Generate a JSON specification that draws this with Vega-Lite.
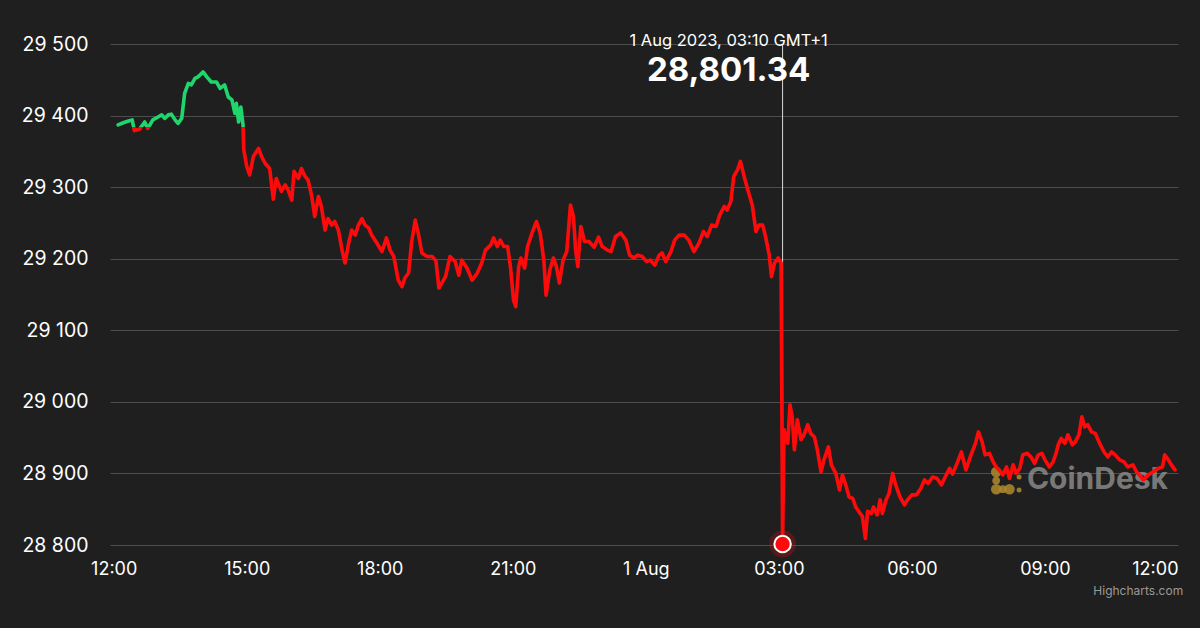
{
  "$schema": "https://vega.github.io/schema/vega-lite/v6.json",
  "width": 1068,
  "height": 501,
  "autosize": {"type": "none"},
  "padding": {"left": 110, "top": 44, "right": 22, "bottom": 83},
  "background": "#1f1f1f",
  "config": {"view": {"stroke": null}, "font": "Inter"},
  "datasets": {
    "price": [
      {"t":"2023-07-31T12:06:00Z","v":29387},{"t":"2023-07-31T12:13:00Z","v":29390},{"t":"2023-07-31T12:19:00Z","v":29392},{"t":"2023-07-31T12:25:00Z","v":29394},{"t":"2023-07-31T12:28:00Z","v":29379},{"t":"2023-07-31T12:35:00Z","v":29381},{"t":"2023-07-31T12:42:00Z","v":29391},{"t":"2023-07-31T12:46:00Z","v":29382},{"t":"2023-07-31T12:53:00Z","v":29394},{"t":"2023-07-31T13:00:00Z","v":29398},{"t":"2023-07-31T13:05:00Z","v":29401},{"t":"2023-07-31T13:09:00Z","v":29396},{"t":"2023-07-31T13:14:00Z","v":29401},{"t":"2023-07-31T13:18:00Z","v":29402},{"t":"2023-07-31T13:23:00Z","v":29394},{"t":"2023-07-31T13:27:00Z","v":29389},{"t":"2023-07-31T13:32:00Z","v":29396},{"t":"2023-07-31T13:36:00Z","v":29431},{"t":"2023-07-31T13:41:00Z","v":29445},{"t":"2023-07-31T13:45:00Z","v":29443},{"t":"2023-07-31T13:50:00Z","v":29452},{"t":"2023-07-31T13:54:00Z","v":29454},{"t":"2023-07-31T14:01:00Z","v":29461},{"t":"2023-07-31T14:06:00Z","v":29454},{"t":"2023-07-31T14:12:00Z","v":29447},{"t":"2023-07-31T14:19:00Z","v":29447},{"t":"2023-07-31T14:24:00Z","v":29438},{"t":"2023-07-31T14:30:00Z","v":29443},{"t":"2023-07-31T14:35:00Z","v":29426},{"t":"2023-07-31T14:40:00Z","v":29422},{"t":"2023-07-31T14:44:00Z","v":29403},{"t":"2023-07-31T14:46:00Z","v":29417},{"t":"2023-07-31T14:49:00Z","v":29391},{"t":"2023-07-31T14:52:00Z","v":29412},{"t":"2023-07-31T14:55:00Z","v":29387},{"t":"2023-07-31T14:56:00Z","v":29352},{"t":"2023-07-31T15:00:00Z","v":29329},{"t":"2023-07-31T15:04:00Z","v":29317},{"t":"2023-07-31T15:09:00Z","v":29343},{"t":"2023-07-31T15:16:00Z","v":29354},{"t":"2023-07-31T15:20:00Z","v":29343},{"t":"2023-07-31T15:25:00Z","v":29333},{"t":"2023-07-31T15:31:00Z","v":29326},{"t":"2023-07-31T15:36:00Z","v":29283},{"t":"2023-07-31T15:40:00Z","v":29312},{"t":"2023-07-31T15:47:00Z","v":29294},{"t":"2023-07-31T15:52:00Z","v":29303},{"t":"2023-07-31T15:56:00Z","v":29296},{"t":"2023-07-31T16:01:00Z","v":29282},{"t":"2023-07-31T16:04:00Z","v":29322},{"t":"2023-07-31T16:10:00Z","v":29312},{"t":"2023-07-31T16:14:00Z","v":29326},{"t":"2023-07-31T16:19:00Z","v":29315},{"t":"2023-07-31T16:23:00Z","v":29310},{"t":"2023-07-31T16:28:00Z","v":29287},{"t":"2023-07-31T16:32:00Z","v":29259},{"t":"2023-07-31T16:37:00Z","v":29287},{"t":"2023-07-31T16:41:00Z","v":29273},{"t":"2023-07-31T16:46:00Z","v":29240},{"t":"2023-07-31T16:50:00Z","v":29256},{"t":"2023-07-31T16:55:00Z","v":29247},{"t":"2023-07-31T16:59:00Z","v":29252},{"t":"2023-07-31T17:04:00Z","v":29240},{"t":"2023-07-31T17:09:00Z","v":29212},{"t":"2023-07-31T17:13:00Z","v":29194},{"t":"2023-07-31T17:18:00Z","v":29222},{"t":"2023-07-31T17:22:00Z","v":29240},{"t":"2023-07-31T17:27:00Z","v":29233},{"t":"2023-07-31T17:31:00Z","v":29247},{"t":"2023-07-31T17:36:00Z","v":29256},{"t":"2023-07-31T17:40:00Z","v":29247},{"t":"2023-07-31T17:45:00Z","v":29243},{"t":"2023-07-31T17:49:00Z","v":29233},{"t":"2023-07-31T17:56:00Z","v":29222},{"t":"2023-07-31T18:03:00Z","v":29210},{"t":"2023-07-31T18:09:00Z","v":29229},{"t":"2023-07-31T18:14:00Z","v":29212},{"t":"2023-07-31T18:19:00Z","v":29203},{"t":"2023-07-31T18:25:00Z","v":29170},{"t":"2023-07-31T18:30:00Z","v":29161},{"t":"2023-07-31T18:34:00Z","v":29173},{"t":"2023-07-31T18:39:00Z","v":29180},{"t":"2023-07-31T18:43:00Z","v":29222},{"t":"2023-07-31T18:48:00Z","v":29254},{"t":"2023-07-31T18:52:00Z","v":29236},{"t":"2023-07-31T18:57:00Z","v":29208},{"t":"2023-07-31T19:04:00Z","v":29203},{"t":"2023-07-31T19:11:00Z","v":29203},{"t":"2023-07-31T19:16:00Z","v":29197},{"t":"2023-07-31T19:20:00Z","v":29159},{"t":"2023-07-31T19:29:00Z","v":29175},{"t":"2023-07-31T19:35:00Z","v":29203},{"t":"2023-07-31T19:42:00Z","v":29196},{"t":"2023-07-31T19:47:00Z","v":29177},{"t":"2023-07-31T19:51:00Z","v":29198},{"t":"2023-07-31T19:58:00Z","v":29187},{"t":"2023-07-31T20:05:00Z","v":29170},{"t":"2023-07-31T20:12:00Z","v":29180},{"t":"2023-07-31T20:18:00Z","v":29194},{"t":"2023-07-31T20:23:00Z","v":29212},{"t":"2023-07-31T20:30:00Z","v":29219},{"t":"2023-07-31T20:34:00Z","v":29229},{"t":"2023-07-31T20:39:00Z","v":29217},{"t":"2023-07-31T20:43:00Z","v":29226},{"t":"2023-07-31T20:48:00Z","v":29217},{"t":"2023-07-31T20:53:00Z","v":29217},{"t":"2023-07-31T20:57:00Z","v":29187},{"t":"2023-07-31T21:01:00Z","v":29142},{"t":"2023-07-31T21:04:00Z","v":29133},{"t":"2023-07-31T21:08:00Z","v":29189},{"t":"2023-07-31T21:11:00Z","v":29201},{"t":"2023-07-31T21:16:00Z","v":29187},{"t":"2023-07-31T21:20:00Z","v":29217},{"t":"2023-07-31T21:26:00Z","v":29236},{"t":"2023-07-31T21:32:00Z","v":29252},{"t":"2023-07-31T21:37:00Z","v":29236},{"t":"2023-07-31T21:42:00Z","v":29198},{"t":"2023-07-31T21:45:00Z","v":29149},{"t":"2023-07-31T21:50:00Z","v":29184},{"t":"2023-07-31T21:55:00Z","v":29201},{"t":"2023-07-31T21:59:00Z","v":29189},{"t":"2023-07-31T22:03:00Z","v":29166},{"t":"2023-07-31T22:08:00Z","v":29198},{"t":"2023-07-31T22:13:00Z","v":29210},{"t":"2023-07-31T22:18:00Z","v":29275},{"t":"2023-07-31T22:22:00Z","v":29259},{"t":"2023-07-31T22:25:00Z","v":29212},{"t":"2023-07-31T22:28:00Z","v":29189},{"t":"2023-07-31T22:32:00Z","v":29245},{"t":"2023-07-31T22:37:00Z","v":29224},{"t":"2023-07-31T22:43:00Z","v":29224},{"t":"2023-07-31T22:50:00Z","v":29216},{"t":"2023-07-31T22:56:00Z","v":29230},{"t":"2023-07-31T23:01:00Z","v":29217},{"t":"2023-07-31T23:08:00Z","v":29212},{"t":"2023-07-31T23:13:00Z","v":29210},{"t":"2023-07-31T23:19:00Z","v":29231},{"t":"2023-07-31T23:26:00Z","v":29236},{"t":"2023-07-31T23:33:00Z","v":29226},{"t":"2023-07-31T23:38:00Z","v":29205},{"t":"2023-07-31T23:44:00Z","v":29201},{"t":"2023-07-31T23:49:00Z","v":29205},{"t":"2023-07-31T23:55:00Z","v":29203},
      {"t":"2023-08-01T00:01:00Z","v":29196},{"t":"2023-08-01T00:06:00Z","v":29198},{"t":"2023-08-01T00:12:00Z","v":29191},{"t":"2023-08-01T00:18:00Z","v":29205},{"t":"2023-08-01T00:22:00Z","v":29208},{"t":"2023-08-01T00:27:00Z","v":29196},{"t":"2023-08-01T00:34:00Z","v":29210},{"t":"2023-08-01T00:39:00Z","v":29226},{"t":"2023-08-01T00:45:00Z","v":29233},{"t":"2023-08-01T00:52:00Z","v":29233},{"t":"2023-08-01T00:58:00Z","v":29226},{"t":"2023-08-01T01:05:00Z","v":29210},{"t":"2023-08-01T01:12:00Z","v":29222},{"t":"2023-08-01T01:18:00Z","v":29238},{"t":"2023-08-01T01:23:00Z","v":29231},{"t":"2023-08-01T01:29:00Z","v":29247},{"t":"2023-08-01T01:35:00Z","v":29245},{"t":"2023-08-01T01:40:00Z","v":29261},{"t":"2023-08-01T01:46:00Z","v":29273},{"t":"2023-08-01T01:50:00Z","v":29268},{"t":"2023-08-01T01:55:00Z","v":29280},{"t":"2023-08-01T01:59:00Z","v":29315},{"t":"2023-08-01T02:04:00Z","v":29324},{"t":"2023-08-01T02:08:00Z","v":29336},{"t":"2023-08-01T02:13:00Z","v":29315},{"t":"2023-08-01T02:18:00Z","v":29296},{"t":"2023-08-01T02:24:00Z","v":29275},{"t":"2023-08-01T02:29:00Z","v":29238},{"t":"2023-08-01T02:33:00Z","v":29247},{"t":"2023-08-01T02:38:00Z","v":29247},{"t":"2023-08-01T02:42:00Z","v":29231},{"t":"2023-08-01T02:47:00Z","v":29205},{"t":"2023-08-01T02:50:00Z","v":29175},{"t":"2023-08-01T02:54:00Z","v":29194},{"t":"2023-08-01T02:59:00Z","v":29201},{"t":"2023-08-01T03:03:00Z","v":29194},{"t":"2023-08-01T03:05:00Z","v":28801.34},{"t":"2023-08-01T03:07:00Z","v":28961},{"t":"2023-08-01T03:12:00Z","v":28942},{"t":"2023-08-01T03:15:00Z","v":28996},{"t":"2023-08-01T03:18:00Z","v":28979},{"t":"2023-08-01T03:21:00Z","v":28933},{"t":"2023-08-01T03:25:00Z","v":28975},{"t":"2023-08-01T03:30:00Z","v":28947},{"t":"2023-08-01T03:34:00Z","v":28954},{"t":"2023-08-01T03:39:00Z","v":28968},{"t":"2023-08-01T03:43:00Z","v":28956},{"t":"2023-08-01T03:48:00Z","v":28951},{"t":"2023-08-01T03:52:00Z","v":28933},{"t":"2023-08-01T03:57:00Z","v":28902},{"t":"2023-08-01T04:01:00Z","v":28919},{"t":"2023-08-01T04:07:00Z","v":28937},{"t":"2023-08-01T04:11:00Z","v":28912},{"t":"2023-08-01T04:17:00Z","v":28900},{"t":"2023-08-01T04:22:00Z","v":28877},{"t":"2023-08-01T04:26:00Z","v":28898},{"t":"2023-08-01T04:31:00Z","v":28882},{"t":"2023-08-01T04:35:00Z","v":28867},{"t":"2023-08-01T04:40:00Z","v":28865},{"t":"2023-08-01T04:44:00Z","v":28853},{"t":"2023-08-01T04:50:00Z","v":28844},{"t":"2023-08-01T04:53:00Z","v":28840},{"t":"2023-08-01T04:57:00Z","v":28809},{"t":"2023-08-01T05:00:00Z","v":28847},{"t":"2023-08-01T05:05:00Z","v":28844},{"t":"2023-08-01T05:08:00Z","v":28853},{"t":"2023-08-01T05:13:00Z","v":28842},{"t":"2023-08-01T05:17:00Z","v":28863},{"t":"2023-08-01T05:20:00Z","v":28844},{"t":"2023-08-01T05:25:00Z","v":28863},{"t":"2023-08-01T05:29:00Z","v":28872},{"t":"2023-08-01T05:34:00Z","v":28900},{"t":"2023-08-01T05:38:00Z","v":28884},{"t":"2023-08-01T05:44:00Z","v":28867},{"t":"2023-08-01T05:50:00Z","v":28856},{"t":"2023-08-01T05:54:00Z","v":28863},{"t":"2023-08-01T06:00:00Z","v":28870},{"t":"2023-08-01T06:06:00Z","v":28870},{"t":"2023-08-01T06:12:00Z","v":28879},{"t":"2023-08-01T06:17:00Z","v":28891},{"t":"2023-08-01T06:22:00Z","v":28886},{"t":"2023-08-01T06:28:00Z","v":28895},{"t":"2023-08-01T06:34:00Z","v":28893},{"t":"2023-08-01T06:40:00Z","v":28884},{"t":"2023-08-01T06:45:00Z","v":28895},{"t":"2023-08-01T06:51:00Z","v":28907},{"t":"2023-08-01T06:55:00Z","v":28899},{"t":"2023-08-01T07:01:00Z","v":28914},{"t":"2023-08-01T07:07:00Z","v":28930},{"t":"2023-08-01T07:13:00Z","v":28905},{"t":"2023-08-01T07:20:00Z","v":28926},{"t":"2023-08-01T07:26:00Z","v":28942},{"t":"2023-08-01T07:30:00Z","v":28958},{"t":"2023-08-01T07:35:00Z","v":28944},{"t":"2023-08-01T07:39:00Z","v":28926},{"t":"2023-08-01T07:45:00Z","v":28928},{"t":"2023-08-01T07:50:00Z","v":28916},{"t":"2023-08-01T07:54:00Z","v":28909},{"t":"2023-08-01T07:58:00Z","v":28905},{"t":"2023-08-01T08:03:00Z","v":28898},{"t":"2023-08-01T08:08:00Z","v":28909},{"t":"2023-08-01T08:12:00Z","v":28893},{"t":"2023-08-01T08:17:00Z","v":28912},{"t":"2023-08-01T08:21:00Z","v":28900},{"t":"2023-08-01T08:26:00Z","v":28907},{"t":"2023-08-01T08:30:00Z","v":28926},{"t":"2023-08-01T08:36:00Z","v":28928},{"t":"2023-08-01T08:41:00Z","v":28923},{"t":"2023-08-01T08:46:00Z","v":28914},{"t":"2023-08-01T08:51:00Z","v":28926},{"t":"2023-08-01T08:56:00Z","v":28928},{"t":"2023-08-01T09:00:00Z","v":28919},{"t":"2023-08-01T09:06:00Z","v":28909},{"t":"2023-08-01T09:11:00Z","v":28916},{"t":"2023-08-01T09:15:00Z","v":28928},{"t":"2023-08-01T09:18:00Z","v":28940},{"t":"2023-08-01T09:22:00Z","v":28949},{"t":"2023-08-01T09:27:00Z","v":28942},{"t":"2023-08-01T09:31:00Z","v":28954},{"t":"2023-08-01T09:37:00Z","v":28940},{"t":"2023-08-01T09:41:00Z","v":28944},{"t":"2023-08-01T09:46:00Z","v":28954},{"t":"2023-08-01T09:50:00Z","v":28979},{"t":"2023-08-01T09:54:00Z","v":28965},{"t":"2023-08-01T09:58:00Z","v":28968},{"t":"2023-08-01T10:03:00Z","v":28958},{"t":"2023-08-01T10:08:00Z","v":28956},{"t":"2023-08-01T10:14:00Z","v":28942},{"t":"2023-08-01T10:20:00Z","v":28930},{"t":"2023-08-01T10:25:00Z","v":28923},{"t":"2023-08-01T10:30:00Z","v":28930},{"t":"2023-08-01T10:35:00Z","v":28926},{"t":"2023-08-01T10:41:00Z","v":28919},{"t":"2023-08-01T10:47:00Z","v":28916},{"t":"2023-08-01T10:52:00Z","v":28909},{"t":"2023-08-01T10:59:00Z","v":28912},{"t":"2023-08-01T11:04:00Z","v":28902},{"t":"2023-08-01T11:08:00Z","v":28898},{"t":"2023-08-01T11:13:00Z","v":28891},{"t":"2023-08-01T11:20:00Z","v":28898},{"t":"2023-08-01T11:26:00Z","v":28902},{"t":"2023-08-01T11:33:00Z","v":28907},{"t":"2023-08-01T11:39:00Z","v":28909},{"t":"2023-08-01T11:42:00Z","v":28926},{"t":"2023-08-01T11:47:00Z","v":28919},{"t":"2023-08-01T11:51:00Z","v":28912},{"t":"2023-08-01T11:56:00Z","v":28905}
    ],
    "marker": [{"t":"2023-08-01T03:05:00Z","v":28801.34,"v2":29500}],
    "logo": [
      {"t":"2023-08-01T07:54:00Z","v":28902,"s":110},
      {"t":"2023-08-01T07:54:00Z","v":28878,"s":110},
      {"t":"2023-08-01T08:12:00Z","v":28878,"s":110},
      {"t":"2023-08-01T08:03:00Z","v":28878,"s":60},
      {"t":"2023-08-01T07:54:00Z","v":28890,"s":60},
      {"t":"2023-08-01T08:25:00Z","v":28895,"s":25},
      {"t":"2023-08-01T08:25:00Z","v":28877,"s":25}
    ],
    "watermark": [{"t":"2023-08-01T10:11:00Z","v":28891,"label":"CoinDesk"}],
    "tipdate": [{"t":"2023-08-01T01:52:00Z","v":29503.5,"label":"1 Aug 2023, 03:10 GMT+1"}],
    "tipvalue": [{"t":"2023-08-01T01:52:00Z","v":29461.6,"label":"28,801.34"}],
    "credit": [{"t":"2023-08-01T12:07:00Z","v":28735.7,"label":"Highcharts.com"}]
  },
  "encoding": {
    "x": {
      "field": "t", "type": "temporal",
      "scale": {"type": "utc", "domain": [{"year":2023,"month":"Jul","date":31,"hours":11,"minutes":55,"utc":true},{"year":2023,"month":"Aug","date":1,"hours":12,"utc":true}]},
      "axis": {
        "title": null, "domain": false, "ticks": false, "grid": false,
        "values": [
          {"year":2023,"month":"Jul","date":31,"hours":12,"utc":true},
          {"year":2023,"month":"Jul","date":31,"hours":15,"utc":true},
          {"year":2023,"month":"Jul","date":31,"hours":18,"utc":true},
          {"year":2023,"month":"Jul","date":31,"hours":21,"utc":true},
          {"year":2023,"month":"Aug","date":1,"hours":0,"utc":true},
          {"year":2023,"month":"Aug","date":1,"hours":3,"utc":true},
          {"year":2023,"month":"Aug","date":1,"hours":6,"utc":true},
          {"year":2023,"month":"Aug","date":1,"hours":9,"utc":true},
          {"year":2023,"month":"Aug","date":1,"hours":12,"utc":true}
        ],
        "labelExpr": "utchours(datum.value) == 0 ? utcFormat(datum.value, '%-d %b') : utcFormat(datum.value, '%H:%M')",
        "labelColor": "#ffffff", "labelFontSize": 18, "labelPadding": 15, "labelFlush": true, "labelFont": "Inter"
      }
    },
    "y": {
      "field": "v", "type": "quantitative",
      "scale": {"domain": [28800, 29500], "nice": false, "zero": false},
      "axis": {
        "title": null, "domain": false, "ticks": false, "grid": true,
        "gridColor": "#4d4d4d", "gridWidth": 1,
        "values": [28800, 28900, 29000, 29100, 29200, 29300, 29400, 29500],
        "labelExpr": "replace(format(datum.value, ','), ',', ' ')",
        "labelColor": "#ffffff", "labelFontSize": 19.5, "labelPadding": 22, "labelFont": "Inter"
      }
    }
  },
  "layer": [
    {
      "data": {"name": "watermark"},
      "mark": {"type": "text", "fontSize": 30, "fontWeight": "bold", "color": "#8f8f8f", "opacity": 0.8, "align": "center", "baseline": "middle", "font": "Inter"},
      "encoding": {"text": {"field": "label"}}
    },
    {
      "data": {"name": "logo"},
      "mark": {"type": "point", "filled": true, "color": "#b08a2e", "opacity": 0.85, "shape": "circle"},
      "encoding": {"size": {"field": "s", "type": "quantitative", "scale": null}}
    },
    {
      "data": {"name": "marker"},
      "mark": {"type": "rule", "color": "#d9d9d9", "strokeWidth": 1},
      "encoding": {"y2": {"field": "v2"}}
    },
    {
      "data": {"name": "price"},
      "mark": {
        "type": "line", "strokeWidth": 3.6, "strokeJoin": "round", "strokeCap": "round",
        "stroke": {
          "gradient": "linear", "x1": 0, "y1": 0, "x2": 0, "y2": 1,
          "stops": [
            {"offset": 0, "color": "#1fd66c"},
            {"offset": 0.1167, "color": "#1fd66c"},
            {"offset": 0.1167, "color": "#ff0a0a"},
            {"offset": 1, "color": "#ff0a0a"}
          ]
        }
      },
      "encoding": {}
    },
    {
      "data": {"name": "marker"},
      "mark": {"type": "point", "filled": true, "color": "#ff0a0a", "opacity": 0.25, "size": 720, "shape": "circle"},
      "encoding": {}
    },
    {
      "data": {"name": "marker"},
      "mark": {"type": "point", "filled": true, "fill": "#ff0a0a", "stroke": "#ffffff", "strokeWidth": 2, "opacity": 1, "size": 270, "shape": "circle"},
      "encoding": {}
    },
    {
      "data": {"name": "tipdate"},
      "mark": {"type": "text", "fontSize": 16.5, "color": "#ffffff", "align": "center", "baseline": "middle", "font": "Inter"},
      "encoding": {"text": {"field": "label"}}
    },
    {
      "data": {"name": "tipvalue"},
      "mark": {"type": "text", "fontSize": 33, "fontWeight": "bold", "color": "#ffffff", "align": "center", "baseline": "middle", "font": "Inter"},
      "encoding": {"text": {"field": "label"}}
    },
    {
      "data": {"name": "credit"},
      "mark": {"type": "text", "fontSize": 12, "color": "#9a9a9a", "align": "right", "baseline": "middle", "font": "Inter"},
      "encoding": {"text": {"field": "label"}}
    }
  ]
}
